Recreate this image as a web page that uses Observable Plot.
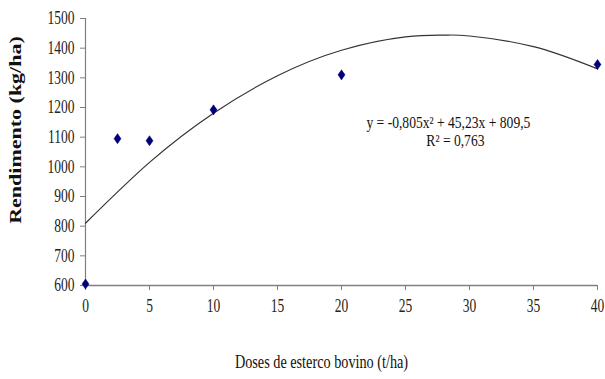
<!DOCTYPE html>
<html>
<head>
<meta charset="utf-8">
<script src="https://cdn.jsdelivr.net/npm/d3@7"></script>
<script src="https://cdn.jsdelivr.net/npm/@observablehq/plot@0.6"></script>
<style>
  html, body { margin: 0; padding: 0; background: #fff; }
  #chart svg { font-family: "Liberation Serif", "Times New Roman", serif; }
</style>
</head>
<body>
<div id="chart"></div>
<script>
// Observed points
const doses = [0, 2.5, 5, 10, 20, 40];
const rendimento = [605, 1095, 1088, 1192, 1310, 1345];

// Trendline
const trendX = [0, 5, 10, 15, 20, 25, 28, 30, 35, 40];
const trendY = [810, 1015, 1181, 1307, 1393, 1438, 1444, 1441, 1405, 1330];

const xTicks = [0, 5, 10, 15, 20, 25, 30, 35, 40];
const yTicks = [600, 700, 800, 900, 1000, 1100, 1200, 1300, 1400, 1500];

const equationLine = "y = -0,805x² + 45,23x + 809,5";
const r2Line = "R² = 0,763";
const xLabel = "Doses de esterco bovino (t/ha)";
const yLabel = "Rendimento (kg/ha)";

const points = doses.map((d, i) => ({x: d, y: rendimento[i]}));
const trend = trendX.map((d, i) => ({x: d, y: trendY[i]}));

// narrow diamond marker (taller than wide)
const narrowDiamond = {
  draw(context, size) {
    const s = Math.sqrt(size / Math.PI);
    context.moveTo(0, -s * 1.12);
    context.lineTo(s * 0.78, 0);
    context.lineTo(0, s * 1.12);
    context.lineTo(-s * 0.78, 0);
    context.closePath();
  }
};

const chart = Plot.plot({
  width: 605,
  height: 379,
  marginLeft: 85,
  marginRight: 8,
  marginTop: 18,
  marginBottom: 94,
  style: {fontFamily: "'Liberation Serif', 'Times New Roman', serif", background: "#fff"},
  x: {domain: [0, 40]},
  y: {domain: [600, 1500]},
  marks: [
    Plot.ruleY([600], {stroke: "#808080", strokeWidth: 1.5}),
    Plot.ruleX([0], {stroke: "#808080", strokeWidth: 1.2}),
    Plot.axisX({ticks: xTicks, tickSize: 5, tickPadding: 9, stroke: "#808080", fontSize: 18, color: "#222", label: null, tickFormat: d => String(d)}),
    Plot.axisY({ticks: yTicks, tickSize: 5, tickPadding: 6, stroke: "#808080", fontSize: 18, color: "#222", label: null, tickFormat: d => String(d)}),
    Plot.line(trend, {x: "x", y: "y", curve: "natural", stroke: "#333", strokeWidth: 1.2}),
    Plot.dot(points, {x: "x", y: "y", symbol: narrowDiamond, r: 4.5, fill: "#00007a", stroke: "#00007a", strokeWidth: 0.5}),
    Plot.text([equationLine], {x: 28.35, y: 1148, text: d => d, fontSize: 16, textAnchor: "middle", lineAnchor: "middle", fill: "#111"}),
    Plot.text([r2Line], {x: 28.9, y: 1087, text: d => d, fontSize: 16, textAnchor: "middle", lineAnchor: "middle", fill: "#111"}),
    Plot.text([xLabel], {frameAnchor: "bottom", dx: -20, dy: 82, text: d => d, fontSize: 19, fill: "#111"}),
    Plot.text([yLabel], {frameAnchor: "left", rotate: -90, textAnchor: "middle", dx: -70, dy: -22, text: d => d, fontSize: 22, fontWeight: "bold", fill: "#111"})
  ]
});

// horizontally condense all text to mimic the reference's narrow serif lettering
chart.querySelectorAll("text").forEach(t => {
  const tr = t.getAttribute("transform");
  const s = t.textContent;
  const k = (s.startsWith("y =") || s.startsWith("R²")) ? 0.85 : 0.75;
  if (tr) {
    const scale = /rotate\(/.test(tr) ? ` scale(1,${k})` : ` scale(${k},1)`;
    t.setAttribute("transform", tr + scale);
  } else {
    const x = +(t.getAttribute("x") || 0), y = +(t.getAttribute("y") || 0);
    t.setAttribute("transform", `translate(${x},${y}) scale(${k},1) translate(${-x},${-y})`);
  }
});

document.getElementById("chart").appendChild(chart);
</script>
</body>
</html>
